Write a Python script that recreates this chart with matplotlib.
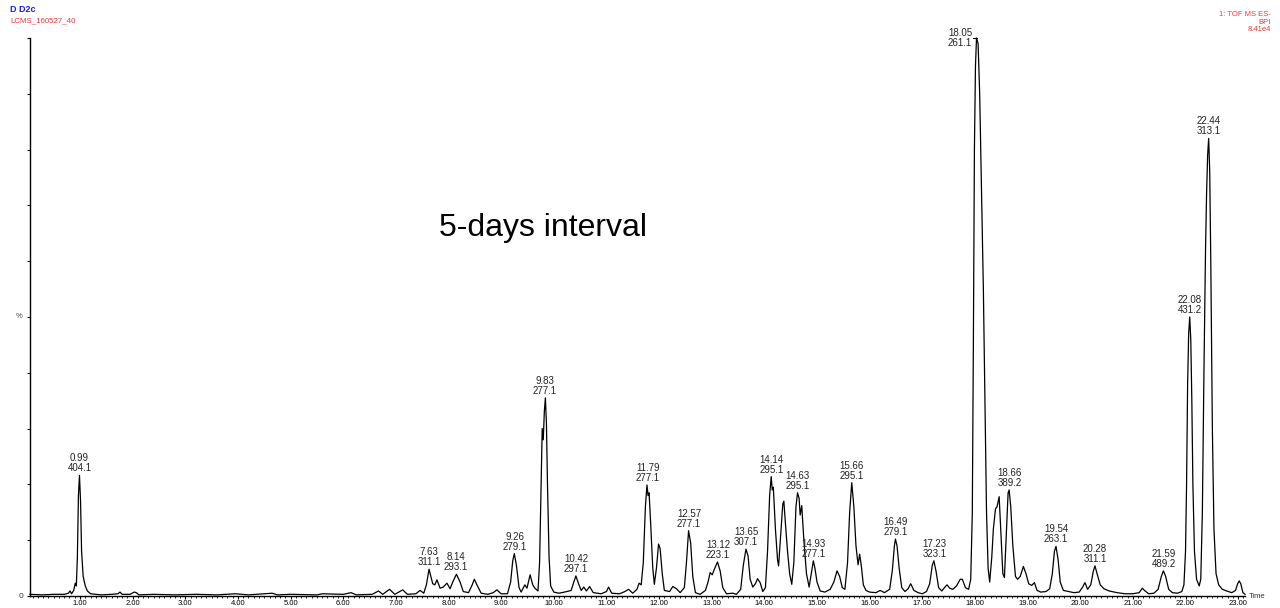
import numpy as np
import matplotlib
matplotlib.use("Agg")
from matplotlib import pyplot as plt

plt.rcParams['font.family'] = ['Liberation Sans', 'DejaVu Sans']

# base peak intensity trace (% of 8.41e4)
rt = [0.05, 0.3, 0.5, 0.7, 0.78, 0.81, 0.84, 0.88, 0.91, 0.93, 0.95, 0.97, 0.99, 1.01, 1.03, 1.06, 1.10, 1.14,
      1.2, 1.4, 1.6, 1.72, 1.76, 1.80, 1.95, 2.03, 2.07, 2.12, 2.4, 2.8, 3.2, 3.6, 3.95, 4.2, 4.65, 4.75,
      5.0, 5.5, 5.6, 6.0, 6.15, 6.25, 6.55, 6.67, 6.75, 6.88, 6.98, 7.13, 7.22, 7.38, 7.46, 7.53, 7.58, 7.63,
      7.70, 7.74, 7.78, 7.84, 7.90, 7.97, 8.03, 8.08, 8.15, 8.22, 8.28, 8.38, 8.45, 8.49, 8.55, 8.62, 8.75,
      8.85, 8.92, 9.0, 9.12, 9.18, 9.22, 9.25, 9.29, 9.34, 9.38, 9.45, 9.49, 9.55, 9.60, 9.64, 9.70, 9.73,
      9.76, 9.78, 9.80, 9.82, 9.84, 9.86, 9.88, 9.91, 9.94, 10.0, 10.1, 10.25, 10.33, 10.38, 10.42, 10.47,
      10.52, 10.57, 10.62, 10.68, 10.75, 10.9, 11.0, 11.04, 11.1, 11.25, 11.35, 11.42, 11.5, 11.58, 11.62,
      11.66, 11.70, 11.74, 11.77, 11.79, 11.81, 11.84, 11.88, 11.91, 11.95, 11.99, 12.02, 12.06, 12.10,
      12.2, 12.26, 12.33, 12.40, 12.48, 12.52, 12.56, 12.60, 12.64, 12.69, 12.78, 12.88, 12.93, 12.97,
      13.01, 13.05, 13.11, 13.16, 13.21, 13.28, 13.40, 13.47, 13.55, 13.60, 13.65, 13.69, 13.73, 13.78,
      13.83, 13.87, 13.92, 13.97, 14.02, 14.06, 14.10, 14.13, 14.15, 14.17, 14.21, 14.25, 14.27, 14.31,
      14.35, 14.37, 14.40, 14.44, 14.48, 14.52, 14.56, 14.60, 14.63, 14.66, 14.68, 14.71, 14.75, 14.80,
      14.85, 14.90, 14.93, 14.96, 15.00, 15.06, 15.15, 15.25, 15.32, 15.38, 15.43, 15.48, 15.53, 15.58,
      15.62, 15.66, 15.70, 15.74, 15.78, 15.81, 15.84, 15.88, 15.93, 16.0, 16.12, 16.2, 16.28, 16.38,
      16.43, 16.47, 16.49, 16.52, 16.56, 16.61, 16.67, 16.73, 16.78, 16.84, 16.92, 17.0, 17.08, 17.14,
      17.19, 17.22, 17.26, 17.31, 17.37, 17.43, 17.47, 17.52, 17.58, 17.65, 17.72, 17.76, 17.82, 17.88,
      17.92, 17.95, 17.97, 17.99, 18.01, 18.03, 18.06, 18.09, 18.12, 18.16, 18.19, 18.22, 18.25, 18.28,
      18.32, 18.35, 18.39, 18.42, 18.46, 18.49, 18.53, 18.56, 18.60, 18.63, 18.65, 18.68, 18.72, 18.77,
      18.81, 18.86, 18.92, 18.97, 19.02, 19.08, 19.13, 19.18, 19.25, 19.35, 19.42, 19.47, 19.51, 19.54,
      19.58, 19.62, 19.68, 19.78, 19.88, 19.98, 20.04, 20.09, 20.14, 20.20, 20.25, 20.28, 20.32, 20.38,
      20.45, 20.55, 20.7, 20.85, 21.0, 21.12, 21.18, 21.22, 21.3, 21.4, 21.48, 21.54, 21.58, 21.62, 21.68,
      21.75, 21.85, 21.93, 21.97, 22.00, 22.02, 22.04, 22.06, 22.08, 22.10, 22.12, 22.14, 22.17, 22.21,
      22.26, 22.29, 22.32, 22.35, 22.38, 22.40, 22.42, 22.44, 22.46, 22.48, 22.51, 22.54, 22.58, 22.63,
      22.70, 22.78, 22.88, 22.95, 22.99, 23.02, 23.05, 23.09, 23.13]
intensity = [0.3, 0.2, 0.3, 0.3, 0.5, 0.9, 0.4, 1.0, 2.3, 1.8, 7, 18, 21.6, 17, 8, 3.5, 1.8, 0.9,
             0.4, 0.2, 0.3, 0.4, 0.7, 0.3, 0.3, 0.7, 0.6, 0.2, 0.3, 0.2, 0.3, 0.2, 0.4, 0.2, 0.5, 0.2,
             0.3, 0.2, 0.4, 0.3, 0.6, 0.2, 0.3, 0.9, 0.3, 1.2, 0.3, 1.1, 0.3, 0.4, 1.0, 0.5, 2.0, 4.8,
             2.2, 2.0, 2.9, 1.4, 1.6, 2.3, 1.3, 2.5, 3.9, 2.5, 0.8, 0.6, 2.0, 3.0, 1.8, 0.5, 0.3,
             0.6, 1.1, 0.4, 0.4, 2.5, 6.3, 7.6, 5.5, 1.5, 0.7, 2.0, 1.4, 3.8, 2.0, 1.4, 0.9, 6,
             20, 30, 28, 33, 35.5, 31, 20, 7, 1.8, 0.7, 0.5, 0.8, 1.0, 2.5, 3.6, 2.2,
             1.0, 1.6, 0.9, 1.7, 0.6, 0.4, 0.8, 1.6, 0.5, 0.4, 0.8, 1.2, 0.5, 1.2, 2.3,
             2.0, 6, 16, 19.9, 18, 18.5, 13, 5, 2.1, 5, 9.3, 8.5, 4, 1.0,
             0.8, 1.7, 1.3, 0.6, 1.5, 6, 11.7, 9.5, 3.5, 0.6, 0.3, 1.0, 2.5, 4.2,
             3.8, 4.8, 6.1, 4.5, 1.5, 0.4, 0.5, 0.3, 1.2, 5.5, 8.4, 7.2, 3.0, 1.6,
             2.2, 3.1, 2.4, 0.8, 1.5, 8, 18, 21.4, 19, 19.5, 12, 6.5, 5.4, 11,
             16.5, 17, 13, 8, 4, 2.1, 6, 16, 18.5, 17.5, 14.5, 16.2, 10, 4,
             1.6, 4.5, 6.3, 5.0, 2.5, 0.9, 0.7, 1.2, 2.5, 4.5, 3.5, 1.5, 1.2, 6,
             15, 20.3, 16, 9, 5.6, 7.5, 5.5, 2.0, 1.0, 0.7, 0.6, 1.0, 0.6, 1.2,
             4.5, 9, 10.2, 9, 5, 1.5, 0.8, 1.3, 2.2, 1.0, 0.6, 0.4, 0.8, 2.2,
             5.5, 6.3, 4.5, 1.5, 0.9, 1.6, 2.0, 1.4, 1.2, 1.8, 3.0, 3.0, 1.5, 1.2,
             3, 15, 45, 80, 95, 100, 99, 90, 75, 55, 35, 15, 5, 2.5,
             7, 12, 15.6, 16, 17.8, 12, 4, 3.3, 12, 18.5, 19, 16, 9, 3.5,
             3.0, 3.5, 5.3, 4.0, 2.2, 1.9, 2.4, 1.0, 0.7, 0.8, 1.3, 4, 8, 8.9,
             6.5, 2.5, 1.0, 0.8, 0.6, 0.7, 1.5, 2.4, 1.2, 2.0, 4.5, 5.4, 4.0, 2.0,
             1.3, 0.9, 0.6, 0.4, 0.4, 0.6, 1.4, 1.0, 0.4, 0.5, 1.2, 3.5, 4.5, 3.6, 1.2,
             0.6, 0.5, 0.8, 2, 8, 20, 38, 47, 50, 46, 35, 20, 8, 3,
             1.8, 3, 15, 40, 62, 72, 79, 82, 76, 60, 30, 12, 4, 2,
             1.2, 0.9, 0.6, 1.0, 2.2, 2.7, 2.2, 0.6, 0.3]

# labelled peaks: retention time / base peak m/z
peak_rt = ["0.99", "7.63", "8.14", "9.26", "9.83", "10.42", "11.79", "12.57", "13.12", "13.65", "14.14",
           "14.63", "14.93", "15.66", "16.49", "17.23", "18.05", "18.66", "19.54", "20.28", "21.59",
           "22.08", "22.44"]
peak_mz = ["404.1", "311.1", "293.1", "279.1", "277.1", "297.1", "277.1", "277.1", "223.1", "307.1", "295.1",
           "295.1", "277.1", "295.1", "279.1", "323.1", "261.1", "389.2", "263.1", "311.1", "489.2",
           "431.2", "313.1"]

rt = np.array(rt)
intensity = np.array(intensity)

fig = plt.figure(figsize=(12.8, 6.08), dpi=100)
ax = fig.add_axes([30 / 1280, 12 / 608, 1215 / 1280, 558 / 608])

ax.plot(rt, intensity, color='black', lw=0.9, clip_on=False)
ax.set_xlim(0.05, 23.13)
ax.set_ylim(0, 100)

for s in ['top', 'right']:
    ax.spines[s].set_visible(False)
for s in ['left', 'bottom']:
    ax.spines[s].set_linewidth(1.0)

ax.set_xticks(np.arange(1, 24))
ax.set_xticklabels(["%.2f" % v for v in range(1, 24)], fontsize=5.5)
ax.set_xticks(np.arange(0.1, 23.15, 0.1), minor=True)
ax.tick_params(axis='x', which='major', length=2.5, width=0.8, pad=0.6)
ax.tick_params(axis='x', which='minor', length=1.6, width=0.6)
ax.set_yticks(np.arange(0, 101, 10))
ax.set_yticklabels(['0', '', '', '', '', '', '', '', '', '', ''], fontsize=6, color='#333333')
ax.tick_params(axis='y', length=2.5, width=0.8, pad=2)
ax.text(-0.006, 0.5, '%', transform=ax.transAxes, ha='right', va='center', fontsize=5.5, color='#444444')
ax.text(1.003, 0.0, 'Time', transform=ax.transAxes, ha='left', va='center', fontsize=5.5, color='#333333')

# peak labels
for t, mz in zip(peak_rt, peak_mz):
    tv = float(t)
    near = np.abs(rt - tv) <= 0.03
    top = intensity[near].max()
    if top >= 99:
        ax.text(tv - 0.1, top, t + "\n" + mz, ha='right', va='center', fontsize=7,
                linespacing=1.0, color='#222222')
        ax.plot([tv - 0.09, tv - 0.02], [top, top], color='black', lw=0.8, clip_on=False)
    else:
        ax.annotate(t + "\n" + mz, (tv, top), xytext=(0, 1.5), textcoords='offset points',
                    ha='center', va='bottom', fontsize=7, linespacing=1.0, color='#222222')

ax.text(0.422, 0.66, '5-days interval', transform=ax.transAxes, ha='center', va='center', fontsize=23)

# header
fig.text(10 / 1280, 1 - 10 / 608, 'D D2c', color='#1a1aff', fontsize=6.5, fontweight='bold', va='center')
fig.text(10 / 1280, 1 - 21 / 608, 'LCMS_160527_40', color='#ff3333', fontsize=5.7, va='center')
fig.text(1 - 9 / 1280, 1 - 22 / 608, '1: TOF MS ES-\nBPI\n8.41e4', color='#ff3333', fontsize=5.5,
         ha='right', va='center', linespacing=1.15)

fig.savefig('out.png', dpi=100)
